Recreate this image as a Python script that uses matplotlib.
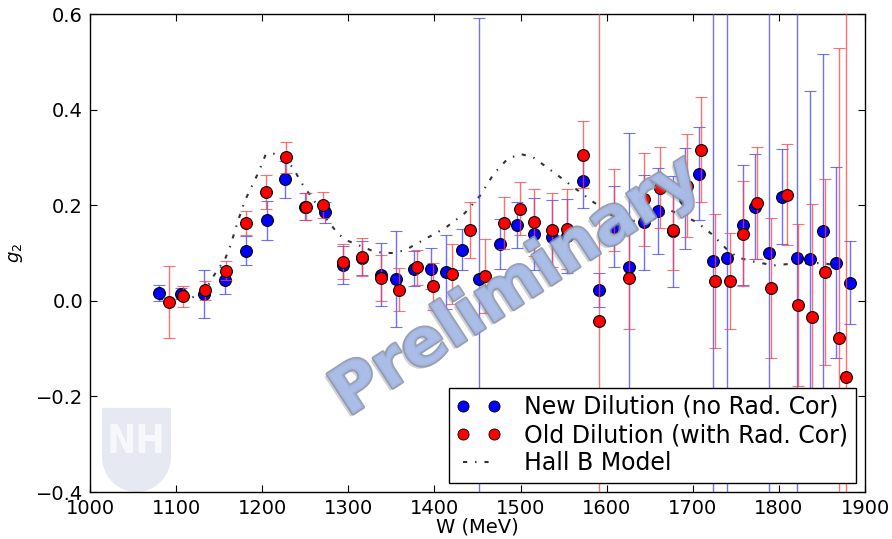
import numpy as np
import matplotlib
matplotlib.use("Agg")
import matplotlib.pyplot as plt
from matplotlib.lines import Line2D
from matplotlib.patches import Polygon
import matplotlib.patheffects as pe

# ---------------- data ----------------
new_W = [1080, 1106, 1132, 1157, 1181, 1206, 1226, 1250, 1273, 1294, 1316, 1338, 1355, 1376, 1396,
         1414, 1432, 1452, 1476, 1496, 1516, 1536, 1554, 1572, 1591, 1608, 1626, 1643, 1660, 1677,
         1691, 1707, 1723, 1740, 1758, 1772, 1789, 1804, 1821, 1836, 1851, 1866, 1883]
new_g2 = [0.017, 0.015, 0.015, 0.043, 0.105, 0.168, 0.254, 0.197, 0.185, 0.075, 0.090, 0.055, 0.046,
          0.067, 0.067, 0.060, 0.107, 0.046, 0.119, 0.159, 0.140, 0.133, 0.136, 0.250, 0.023, 0.155,
          0.070, 0.164, 0.187, 0.145, 0.214, 0.266, 0.084, 0.090, 0.159, 0.197, 0.099, 0.218, 0.090,
          0.088, 0.146, 0.080, 0.038]
new_err = [0.017, 0.012, 0.050, 0.028, 0.031, 0.040, 0.039, 0.028, 0.022, 0.040, 0.035, 0.065, 0.100,
           0.037, 0.043, 0.077, 0.043, 0.545, 0.053, 0.048, 0.075, 0.078, 0.078, 0.055, 0.036, 0.085,
           0.280, 0.100, 0.090, 0.117, 0.105, 0.098, 1.000, 1.000, 0.126, 0.110, 1.000, 0.100, 1.000,
           0.350, 0.370, 0.200, 0.087]

old_W = [1092, 1108, 1134, 1158, 1181, 1204, 1228, 1251, 1271, 1294, 1316, 1338, 1359, 1380, 1398,
         1420, 1441, 1459, 1481, 1499, 1516, 1536, 1554, 1573, 1591, 1608, 1626, 1643, 1662, 1677,
         1693, 1709, 1726, 1743, 1758, 1775, 1791, 1809, 1822, 1838, 1853, 1870, 1878]
old_g2 = [-0.002, 0.010, 0.022, 0.063, 0.162, 0.228, 0.300, 0.197, 0.201, 0.082, 0.092, 0.047, 0.023,
          0.070, 0.030, 0.056, 0.148, 0.052, 0.163, 0.193, 0.164, 0.148, 0.150, 0.306, -0.042, 0.190,
          0.047, 0.212, 0.237, 0.148, 0.241, 0.316, 0.042, 0.042, 0.140, 0.204, 0.027, 0.222, -0.009,
          -0.033, 0.060, -0.077, -0.160]
old_err = [0.075, 0.022, 0.020, 0.020, 0.025, 0.035, 0.033, 0.028, 0.027, 0.037, 0.040, 0.048, 0.045,
           0.037, 0.050, 0.063, 0.059, 0.077, 0.055, 0.056, 0.070, 0.078, 0.083, 0.070, 1.000, 0.086,
           0.105, 0.097, 0.085, 0.084, 0.107, 0.110, 0.140, 0.100, 0.110, 0.117, 0.147, 0.105, 0.170,
           0.235, 0.195, 0.605, 1.000]

model_W = [1080, 1100, 1120, 1133, 1145, 1157, 1163, 1172, 1180, 1188, 1196, 1204, 1213, 1225, 1235,
           1247, 1260, 1273, 1288, 1300, 1326, 1340, 1352, 1366, 1390, 1413, 1435, 1453, 1469, 1485,
           1500, 1514, 1530, 1545, 1562, 1585, 1605, 1631, 1655, 1674, 1694, 1706, 1723, 1741, 1753,
           1771, 1794, 1817, 1849, 1876]
model_g2 = [0.003, 0.005, 0.008, 0.020, 0.056, 0.088, 0.115, 0.168, 0.210, 0.240, 0.270, 0.306, 0.308,
            0.296, 0.280, 0.243, 0.210, 0.175, 0.140, 0.125, 0.106, 0.100, 0.100, 0.106, 0.130, 0.153,
            0.183, 0.220, 0.266, 0.297, 0.307, 0.301, 0.280, 0.260, 0.237, 0.206, 0.182, 0.167, 0.172,
            0.189, 0.174, 0.163, 0.138, 0.105, 0.090, 0.082, 0.074, 0.078, 0.079, 0.072]

labels = ["New Dilution (no Rad. Cor)", "Old Dilution (with Rad. Cor)", "Hall B Model"]
x_ticks = [1000, 1100, 1200, 1300, 1400, 1500, 1600, 1700, 1800, 1900]
y_ticks = [-0.4, -0.2, 0.0, 0.2, 0.4, 0.6]

# ---------------- figure ----------------
plt.rcParams['font.family'] = ['DejaVu Sans']
fig = plt.figure(figsize=(8.92, 5.39), dpi=100)
ax = fig.add_axes([90/892, 47/539, 775/892, 478/539])

ax.errorbar(new_W, new_g2, yerr=new_err, fmt='o', color='#0000ff', ecolor=(0.25, 0.25, 1.0, 0.75),
            elinewidth=1.0, capsize=4, capthick=1.0, markersize=8.5, markeredgecolor='black',
            markeredgewidth=0.8, zorder=3)
ax.errorbar(old_W, old_g2, yerr=old_err, fmt='o', color='#ff0000', ecolor=(1.0, 0.25, 0.25, 0.75),
            elinewidth=1.0, capsize=4, capthick=1.0, markersize=8.5, markeredgecolor='black',
            markeredgewidth=0.8, zorder=4)
model_ls = (0, (2, 3.8, 0.7, 3.8))
ax.plot(model_W, model_g2, color='#333333', lw=1.5, linestyle=model_ls, zorder=2)

ax.set_xlim(1000, 1900)
ax.set_ylim(-0.4, 0.6)
ax.set_xticks(x_ticks)
ax.set_yticks(y_ticks)
ax.set_yticklabels(["\u22120.4", "\u22120.2", "0.0", "0.2", "0.4", "0.6"])
ax.tick_params(direction='in', top=True, right=True, length=5, width=0.8, labelsize=14, pad=5)
for s in ax.spines.values():
    s.set_linewidth(1.0)
ax.set_xlabel("W (MeV)", fontsize=14, labelpad=0)
ax.set_ylabel("$g_2$", fontsize=13, labelpad=8)

# legend
handles = [
    Line2D([], [], marker='o', linestyle='none', color='#0000ff', markersize=8,
           markeredgecolor='black', markeredgewidth=0.6),
    Line2D([], [], marker='o', linestyle='none', color='#ff0000', markersize=8,
           markeredgecolor='black', markeredgewidth=0.6),
    Line2D([], [], color='#333333', lw=1.5, linestyle=model_ls),
]
leg = ax.legend(handles, labels, loc='lower right', numpoints=2, fontsize=17, frameon=True,
                fancybox=False, edgecolor='black', framealpha=1.0, handlelength=1.9,
                labelspacing=0.18, borderpad=0.3, handletextpad=1.0, borderaxespad=0.4)
leg.get_frame().set_linewidth(1.0)
leg.set_zorder(6)

# UNH shield logo (faded)
t = np.linspace(0, 1, 30)
lx, rx, top, mid, tip_y = 0.0155, 0.1045, 0.176, 0.074, 0.0
cx = (lx + rx) / 2
left_curve = [(lx + (cx - lx) * (1 - np.cos(a * np.pi / 2)), mid - (mid - tip_y) * np.sin(a * np.pi / 2)) for a in t]
right_curve = [(rx - (rx - cx) * (1 - np.cos(a * np.pi / 2)), mid - (mid - tip_y) * np.sin(a * np.pi / 2)) for a in t[::-1]]
pts = [(lx, top)] + left_curve + right_curve + [(rx, top)]
ax.add_patch(Polygon(pts, closed=True, transform=ax.transAxes, facecolor='#e6e9f2',
                     edgecolor='none', zorder=1))
ax.text(cx, 0.105, "NH", transform=ax.transAxes, ha='center', va='center', fontsize=28,
        fontweight='bold', color='#f7f8fb', zorder=1, fontstretch='condensed')

# watermark
ax.text(0.55, 0.43, "Preliminary", transform=ax.transAxes, ha='center', va='center',
        rotation=33, rotation_mode='anchor', fontsize=47, fontweight='bold', color='#a9bde8',
        alpha=0.85, zorder=5,
        path_effects=[pe.SimplePatchShadow(offset=(-2, -2), shadow_rgbFace='#808080', alpha=0.35),
                      pe.Stroke(linewidth=2.5, foreground='#8891a8'), pe.Normal()])

fig.savefig("out.png", dpi=100)
